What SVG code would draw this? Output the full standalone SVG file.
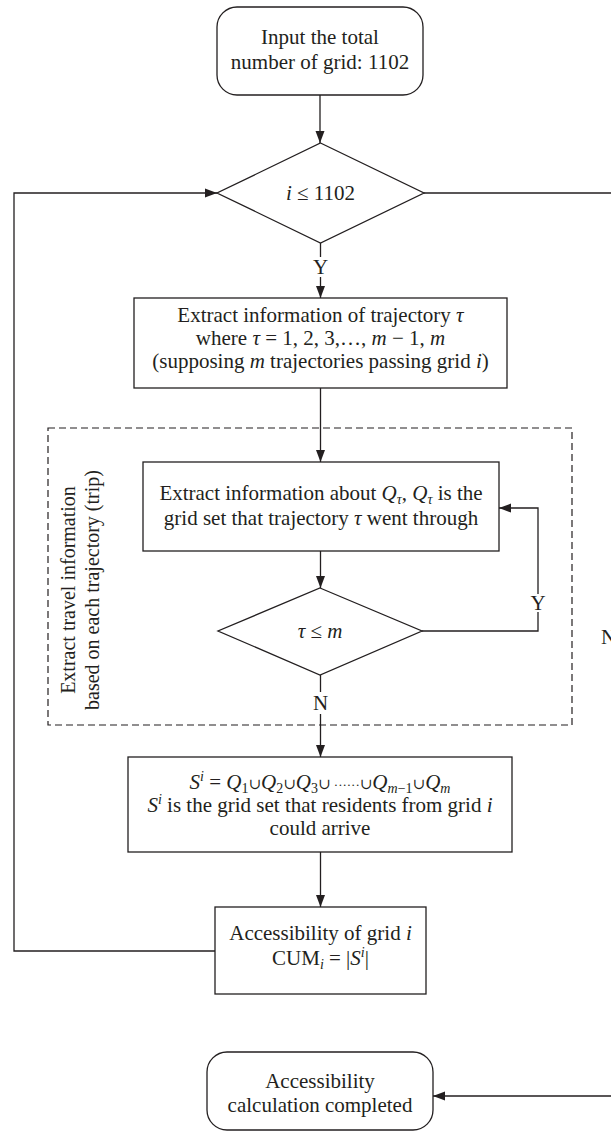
<svg xmlns="http://www.w3.org/2000/svg" width="611" height="1134" viewBox="0 0 611 1134">
<style>
.n{fill:#fff;stroke:#231f20;stroke-width:1.3}
.d{fill:none;stroke:#231f20;stroke-width:1.2;stroke-dasharray:7 4}
.c{fill:none;stroke:#231f20;stroke-width:1.3}
.t{font-family:"Liberation Serif","Times New Roman",serif;font-size:21px;fill:#231f20;text-anchor:middle}
.v{font-size:20px}
.i{font-style:italic}
.s{font-size:14px}
.u{font-family:"DejaVu Serif","Liberation Serif",serif;font-size:15px}
.dt{font-size:13px}
</style>
<defs>
<marker id="a" viewBox="0 0 12 10" refX="12" refY="5" markerWidth="12" markerHeight="10" markerUnits="userSpaceOnUse" orient="auto">
<path d="M0,0.5 L12,5 L0,9.5 z" fill="#231f20"/>
</marker>
</defs>
<g id="connectors">
<path class="c" d="M320,95 V143" marker-end="url(#a)"/>
<path class="c" d="M320.5,243 V257"/>
<path class="c" d="M320.5,277 V298" marker-end="url(#a)"/>
<path class="c" d="M320.5,388 V462" marker-end="url(#a)"/>
<path class="c" d="M320.5,551 V588" marker-end="url(#a)"/>
<path class="c" d="M422,631 H538 V612"/>
<path class="c" d="M538,594 V508 H499" marker-end="url(#a)"/>
<path class="c" d="M320.5,675 V692"/>
<path class="c" d="M320.5,714 V757" marker-end="url(#a)"/>
<path class="c" d="M320.5,852 V907" marker-end="url(#a)"/>
<path class="c" d="M215,951 H14 V193 H217" marker-end="url(#a)"/>
<path class="c" d="M424,193 H616 V1096 H433" marker-end="url(#a)"/>
<text class="t" x="320.5" y="274">Y</text>
<text class="t" x="538" y="610">Y</text>
<text class="t" x="320.5" y="710">N</text>
<text class="t" x="601" y="644" style="text-anchor:start">N</text>
</g>
<g id="group-trip">
<rect class="d" x="48" y="428" width="524" height="297"/>
<text class="t v" transform="translate(75,590) rotate(-90)">Extract travel information</text>
<text class="t v" transform="translate(99,590) rotate(-90)">based on each trajectory (trip)</text>
</g>
<g id="start">
<rect class="n" x="217" y="7" width="206" height="88" rx="20"/>
<text class="t" x="320" y="44">Input the total</text>
<text class="t" x="320" y="69">number of grid: 1102</text>
</g>
<g id="cond-grid">
<polygon class="n" points="320.5,143 424,193 320.5,243 217,193"/>
<text class="t" x="320.5" y="200"><tspan class="i">i</tspan> ≤ 1102</text>
</g>
<g id="extract-traj">
<rect class="n" x="134" y="298" width="373" height="90"/>
<text class="t" x="320.5" y="322">Extract information of trajectory <tspan class="i">τ</tspan></text>
<text class="t" x="320.5" y="345">where <tspan class="i">τ</tspan> = 1, 2, 3,…, <tspan class="i">m</tspan> − 1, <tspan class="i">m</tspan></text>
<text class="t" x="320.5" y="368">(supposing <tspan class="i">m</tspan> trajectories passing grid <tspan class="i">i</tspan>)</text>
</g>
<g id="extract-q">
<rect class="n" x="143" y="462" width="356" height="89"/>
<text class="t" x="321" y="500">Extract information about <tspan class="i">Q</tspan><tspan class="i s" dy="4">τ</tspan><tspan dy="-4">, </tspan><tspan class="i">Q</tspan><tspan class="i s" dy="4">τ</tspan><tspan dy="-4"> is the</tspan></text>
<text class="t" x="321" y="525">grid set that trajectory <tspan class="i">τ</tspan> went through</text>
</g>
<g id="cond-traj">
<polygon class="n" points="320,588 422,631 320,675 218,631"/>
<text class="t" x="320" y="638"><tspan class="i">τ</tspan> ≤ <tspan class="i">m</tspan></text>
</g>
<g id="union">
<rect class="n" x="128" y="757" width="384" height="95"/>
<text class="t" x="320" y="789"><tspan class="i">S</tspan><tspan class="i s" dy="-8">i</tspan><tspan dy="8"> = </tspan><tspan class="i">Q</tspan><tspan class="s" dy="4">1</tspan><tspan class="u" dy="-4">∪</tspan><tspan class="i">Q</tspan><tspan class="s" dy="4">2</tspan><tspan class="u" dy="-4">∪</tspan><tspan class="i">Q</tspan><tspan class="s" dy="4">3</tspan><tspan class="u" dy="-4">∪</tspan><tspan class="dt"> ······</tspan><tspan class="u">∪</tspan><tspan class="i">Q</tspan><tspan class="s" dy="4"><tspan class="i">m</tspan>−1</tspan><tspan class="u" dy="-4">∪</tspan><tspan class="i">Q</tspan><tspan class="i s" dy="4">m</tspan></text>
<text class="t" x="320" y="812"><tspan class="i">S</tspan><tspan class="i s" dy="-8">i</tspan><tspan dy="8"> is the grid set that residents from grid </tspan><tspan class="i">i</tspan></text>
<text class="t" x="320" y="835">could arrive</text>
</g>
<g id="accessibility">
<rect class="n" x="215" y="907" width="211" height="87"/>
<text class="t" x="320.5" y="940">Accessibility of grid <tspan class="i">i</tspan></text>
<text class="t" x="320.5" y="965">CUM<tspan class="i s" dy="4">i</tspan><tspan dy="-4"> = |</tspan><tspan class="i">S</tspan><tspan class="i s" dy="-8">i</tspan><tspan dy="8">|</tspan></text>
</g>
<g id="end">
<rect class="n" x="207" y="1052" width="226" height="78" rx="20"/>
<text class="t" x="320" y="1088">Accessibility</text>
<text class="t" x="320" y="1112">calculation completed</text>
</g>
</svg>
